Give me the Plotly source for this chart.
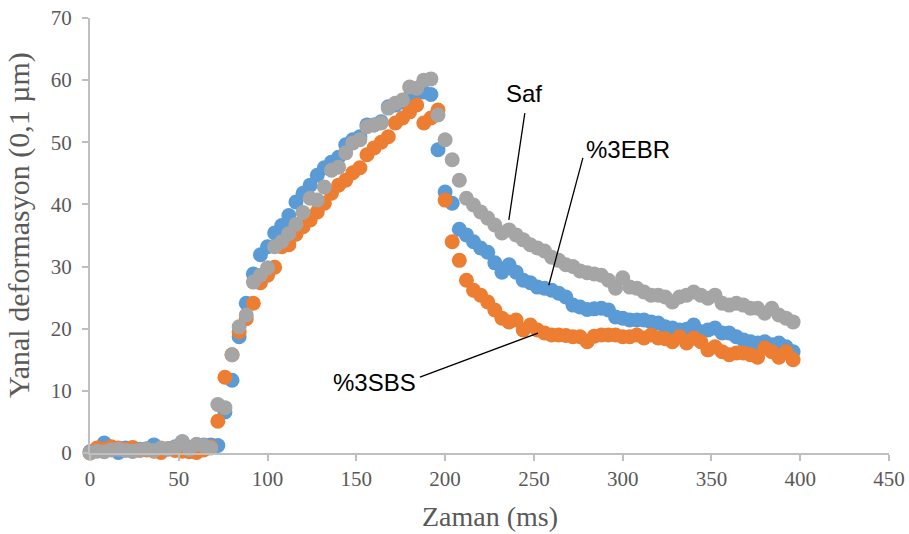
import plotly.graph_objects as go

time_ms = list(range(0, 400, 4))

ebr = [0.2, 0.6, 1.6, 0.9, 0.1, 0.8, 0.3, 0.6, 0.7, 1.3, 0.4, 0.7, 1.0, 1.8, 0.9, 0.5, 1.3, 1.3,
       1.2, 6.6, 11.7, 18.7, 24.1, 28.8, 31.9, 33.2, 35.4, 36.6, 38.2, 40.4, 41.8, 43.1, 44.7, 45.9,
       46.8, 47.6, 49.6, 50.4, 50.9, 52.8, 52.8, 53.3, 55.7, 56.0, 56.5, 57.3, 57.9, 58.1, 57.7,
       48.8, 42.0, 40.2, 36.0, 35.1, 34.0, 33.0, 32.3, 30.6, 29.1, 30.3, 29.1, 27.8, 27.4, 26.7,
       26.5, 26.2, 25.7, 25.1, 23.8, 23.5, 23.1, 23.2, 23.3, 23.0, 21.9, 21.7, 21.4, 21.4, 21.4,
       21.1, 20.9, 20.3, 20.1, 19.8, 19.9, 20.6, 19.5, 19.8, 20.1, 19.3, 19.3, 18.7, 18.2, 17.9,
       17.7, 17.9, 17.4, 17.7, 17.1, 16.3]

sbs = [0.0, 0.8, 0.6, 1.0, 0.8, 0.6, 0.9, 0.4, 0.5, 0.3, 0.1, 0.7, 0.4, 0.3, 0.2, 0.1, 0.5, 1.0,
       5.1, 12.2, 15.8, 19.5, 21.6, 24.1, 27.4, 28.6, 29.9, 33.2, 33.5, 35.2, 36.4, 37.5, 38.8,
       40.2, 41.8, 43.1, 43.9, 45.1, 45.9, 48.0, 49.1, 50.0, 50.9, 53.1, 53.9, 54.9, 56.0, 53.1,
       53.9, 55.2, 40.7, 34.0, 31.0, 27.8, 26.2, 25.4, 24.3, 23.0, 21.7, 21.1, 21.4, 19.8, 20.6,
       19.8, 19.3, 19.0, 19.0, 18.9, 18.7, 18.7, 17.9, 18.8, 19.0, 19.0, 19.0, 18.7, 18.7, 19.0,
       18.5, 19.0, 18.5, 18.4, 17.9, 18.7, 17.7, 18.5, 17.9, 16.6, 17.1, 16.3, 15.8, 16.1, 16.1,
       15.8, 15.4, 16.9, 16.3, 15.4, 16.3, 15.0]

saf = [0.0, 0.3, 0.2, 0.5, 0.6, 0.4, 0.3, 0.5, 0.6, 0.4, 0.8, 0.6, 0.9, 1.8, 0.6, 1.4, 1.2, 0.8,
       7.8, 7.3, 15.8, 20.3, 22.2, 27.5, 28.6, 29.8, 33.2, 34.0, 35.3, 36.8, 38.7, 41.0, 40.7,
       42.8, 45.5, 46.0, 48.3, 49.9, 50.4, 52.5, 52.8, 53.1, 55.5, 56.3, 56.8, 58.9, 58.7, 60.0,
       60.2, 54.4, 50.4, 47.2, 43.9, 41.0, 39.9, 38.8, 37.8, 36.7, 35.4, 35.9, 35.1, 34.3, 33.5,
       33.0, 32.5, 31.5, 31.0, 30.3, 30.0, 29.3, 29.0, 28.8, 28.6, 27.8, 26.5, 28.2, 26.7, 26.5,
       25.9, 25.4, 25.4, 25.1, 24.3, 25.1, 25.4, 25.9, 25.4, 24.9, 25.4, 24.1, 23.8, 24.1, 23.8,
       23.3, 23.3, 22.5, 23.3, 22.2, 21.7, 21.1]

x_ticks = [0, 50, 100, 150, 200, 250, 300, 350, 400, 450]
y_ticks = [0, 10, 20, 30, 40, 50, 60, 70]
x_title = "Zaman (ms)"
y_title = "Yanal deformasyon (0,1 µm)"

series = [("%3EBR", ebr, "#5B9BD5"), ("%3SBS", sbs, "#ED7D31"), ("Saf", saf, "#A5A5A5")]

fig = go.Figure()
for name, vals, col in series:
    fig.add_trace(go.Scatter(x=time_ms, y=vals, mode="markers", name=name,
                             marker=dict(size=15, color=col, line=dict(width=0)),
                             cliponaxis=False))

# callout labels: (text, text_x, text_y, line_start, line_end)
callouts = [
    ("Saf", 244.4, 57.9, (244.9, 54.7), (235.9, 37.5)),
    ("%3EBR", 302.9, 48.8, (277.6, 47.5), (258.4, 27.0)),
    ("%3SBS", 160.5, 11.4, (185.8, 12.2), (252.3, 19.3)),
]
for txt, tx, ty, p0, p1 in callouts:
    fig.add_shape(type="line", xref="x", yref="y", x0=p0[0], y0=p0[1], x1=p1[0], y1=p1[1],
                  line=dict(color="black", width=1.3))
    fig.add_annotation(x=tx, y=ty, xref="x", yref="y", text=txt, showarrow=False,
                       font=dict(family="Liberation Sans", size=24, color="black"))

# axis titles (placed in paper coordinates relative to plot area 90..889 x 18..453)
fig.add_annotation(x=(490 - 90) / 799, y=-(516 - 453) / 435, xref="paper", yref="paper",
                   text=x_title, showarrow=False, xanchor="center", yanchor="middle",
                   font=dict(family="Liberation Serif", size=28, color="#595959"))
fig.add_annotation(x=-(90 - 19) / 799, y=1 - (225 - 18) / 435, xref="paper", yref="paper",
                   text=y_title, showarrow=False, xanchor="center", yanchor="middle",
                   textangle=-90,
                   font=dict(family="Liberation Serif", size=30, color="#595959"))

axis_common = dict(showgrid=False, zeroline=False, showline=True, linecolor="#BFBFBF",
                   linewidth=2, ticks="outside", tickcolor="#BFBFBF", ticklen=6, tickwidth=1.5,
                   automargin=False, ticklabeloverflow="allow",
                   tickfont=dict(family="Liberation Serif", size=21, color="#595959"))

fig.update_layout(
    width=909, height=534,
    margin=dict(l=90, r=20, t=18, b=81),
    paper_bgcolor="white", plot_bgcolor="white",
    showlegend=False,
    xaxis=dict(range=[0, 450], tickvals=x_ticks, **axis_common),
    yaxis=dict(range=[0, 70], tickvals=y_ticks, ticklabelstandoff=6, **axis_common),
)

fig.write_html("out.html", config={"displayModeBar": False},
               post_script="document.body.style.margin='0';document.body.style.overflow='hidden';")
